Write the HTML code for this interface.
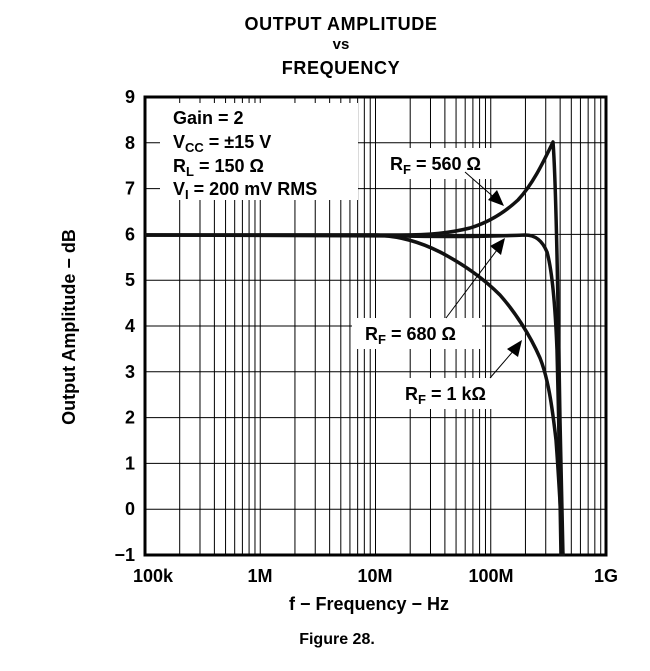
<!DOCTYPE html>
<html><head><meta charset="utf-8"><style>
body{margin:0;background:#fff;}
svg text{font-family:"Liberation Sans",Arial,sans-serif;font-weight:bold;fill:#000;}
</style></head><body>
<svg id="s" width="650" height="666" viewBox="0 0 650 666" xmlns="http://www.w3.org/2000/svg">
<text x="341" y="30" font-size="18" text-anchor="middle" letter-spacing="0.6">OUTPUT AMPLITUDE</text>
<text x="341" y="49" font-size="15" text-anchor="middle">vs</text>
<text x="341" y="74" font-size="18" text-anchor="middle" letter-spacing="0.6">FREQUENCY</text>
<g id="grid" stroke="#000" stroke-width="1"></g>
<rect x="160" y="103" width="198" height="97" fill="#fff"/>
<rect x="383" y="148" width="122" height="31" fill="#fff"/>
<rect x="352" y="318" width="130" height="31" fill="#fff"/>
<rect x="400" y="378" width="112" height="31" fill="#fff"/>
<rect x="145" y="97" width="461" height="458" fill="none" stroke="#000" stroke-width="3"/>
<g fill="none" stroke="#111" stroke-width="3.5" stroke-linejoin="round">
<path d="M145,235 L375,235 C400,236 420,242 440,252 C465,265 485,280 500,295 C515,312 530,335 540,358 C548,378 552,405 556,440 C559,480 561,520 563,556"/>
<path d="M145,235 L400,236 C450,237 500,236 525,235 C535,235 542,240 547,252 C552,270 555,300 557,350 C559,420 560,500 561,556"/>
<path d="M145,235 L400,235 C430,235 450,233 470,228 C490,222 505,212 518,200 C532,185 542,165 553,142 C556,180 558,300 560,420 C561,480 562,530 563,556"/>
</g>
<g stroke="#000" stroke-width="1">
<line x1="465" y1="172" x2="497" y2="200"/>
<line x1="446" y1="318" x2="500" y2="246"/>
<line x1="490" y1="378" x2="515" y2="349"/>
</g>
<g fill="#000">
<polygon points="504,206 488,200 497,190"/>
<polygon points="505,238 501,255 490,246"/>
<polygon points="522,340 518,357 507,349"/>
</g>
<g font-size="18">
<text x="173" y="124">Gain = 2</text>
<text x="173" y="148">V<tspan font-size="13" dy="4">CC</tspan><tspan dy="-4"> = ±15 V</tspan></text>
<text x="173" y="172">R<tspan font-size="13" dy="4">L</tspan><tspan dy="-4"> = 150 Ω</tspan></text>
<text x="173" y="195">V<tspan font-size="13" dy="4">I</tspan><tspan dy="-4"> = 200 mV RMS</tspan></text>
<text x="390" y="170">R<tspan font-size="13" dy="4">F</tspan><tspan dy="-4"> = 560 Ω</tspan></text>
<text x="365" y="340">R<tspan font-size="13" dy="4">F</tspan><tspan dy="-4"> = 680 Ω</tspan></text>
<text x="405" y="400">R<tspan font-size="13" dy="4">F</tspan><tspan dy="-4"> = 1 kΩ</tspan></text>
</g>
<g id="yl" font-size="18" text-anchor="end"></g>
<g font-size="18" text-anchor="middle">
<text x="153" y="582">100k</text><text x="260" y="582">1M</text><text x="375" y="582">10M</text><text x="491" y="582">100M</text><text x="606" y="582">1G</text>
</g>
<text x="369" y="610" font-size="18" text-anchor="middle">f − Frequency − Hz</text>
<text x="75" y="327" font-size="18" text-anchor="middle" transform="rotate(-90 75 327)">Output Amplitude − dB</text>
<text x="337" y="644" font-size="16" text-anchor="middle">Figure 28.</text>
</svg>
<script>
var g=document.getElementById('grid'),yl=document.getElementById('yl'),ns='http://www.w3.org/2000/svg';
function L(a,b,c,d){var l=document.createElementNS(ns,'line');l.setAttribute('x1',a);l.setAttribute('y1',b);l.setAttribute('x2',c);l.setAttribute('y2',d);g.appendChild(l);}
for(var d=0;d<4;d++)for(var k=1;k<10;k++){var x=145+115.25*(d+Math.log10(k));if(x>146)L(x,97,x,555);}
for(var v=-1;v<=9;v++){var y=555-(v+1)*45.8;L(145,y,606,y);var t=document.createElementNS(ns,'text');t.setAttribute('x',135);t.setAttribute('y',y+6);t.textContent=v<0?'−1':v;yl.appendChild(t);}
</script>
</body></html>
